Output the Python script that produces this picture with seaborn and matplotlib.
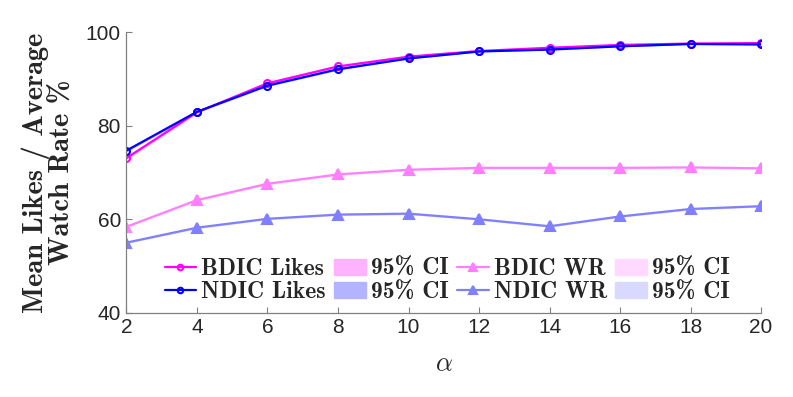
import numpy as np
import pandas as pd
import seaborn as sns
import matplotlib.pyplot as plt
from matplotlib.patches import Patch
from matplotlib.lines import Line2D

# data
alpha = [2, 4, 6, 8, 10, 12, 14, 16, 18, 20]
bdic_likes = [73.1, 82.9, 89.1, 92.7, 94.8, 96.0, 96.7, 97.3, 97.6, 97.7]
ndic_likes = [74.7, 83.0, 88.6, 92.1, 94.4, 95.9, 96.3, 97.0, 97.5, 97.4]
bdic_wr = [58.4, 64.1, 67.6, 69.6, 70.6, 71.0, 71.0, 71.0, 71.1, 70.9]
ndic_wr = [55.0, 58.2, 60.1, 61.0, 61.2, 60.0, 58.5, 60.6, 62.2, 62.8]
# 95% CI half widths (very narrow, barely visible)
ci_bdic_likes = [0.3, 0.2, 0.2, 0.2, 0.1, 0.1, 0.1, 0.1, 0.1, 0.1]
ci_ndic_likes = [0.3, 0.2, 0.2, 0.2, 0.1, 0.1, 0.1, 0.1, 0.1, 0.1]
ci_bdic_wr = [0.2, 0.2, 0.2, 0.2, 0.2, 0.2, 0.2, 0.2, 0.2, 0.2]
ci_ndic_wr = [0.2, 0.2, 0.2, 0.2, 0.2, 0.2, 0.2, 0.2, 0.2, 0.2]

sns.set_style("ticks")
plt.rcParams["font.family"] = ["Liberation Sans", "DejaVu Sans"]
plt.rcParams["mathtext.fontset"] = "cm"

df = pd.DataFrame({"alpha": alpha, "bdic_likes": bdic_likes, "ndic_likes": ndic_likes,
                   "bdic_wr": bdic_wr, "ndic_wr": ndic_wr})

fig = plt.figure(figsize=(7.93, 3.97), dpi=100)
ax = fig.add_axes([0.1595, 0.2123, 0.8002, 0.7063])

series = [
    ("bdic_likes", ci_bdic_likes, "#ff00ff", "#ffb3ff", "o", 5, "none"),
    ("ndic_likes", ci_ndic_likes, "#0000ff", "#b3b3ff", "o", 5, "none"),
    ("bdic_wr", ci_bdic_wr, "#ff80ff", "#ffd9ff", "^", 7, None),
    ("ndic_wr", ci_ndic_wr, "#8080ff", "#d9d9ff", "^", 7, None),
]
for col, ci, c, cfill, mk, ms, mfc in series:
    lo = np.array(df[col]) - np.array(ci)
    hi = np.array(df[col]) + np.array(ci)
    ax.fill_between(df["alpha"], lo, hi, color=cfill, lw=0)
for col, ci, c, cfill, mk, ms, mfc in series:
    sns.lineplot(data=df, x="alpha", y=col, ax=ax, color=c, lw=1.6, marker=mk,
                 markersize=ms, markeredgecolor=c, markeredgewidth=1.5,
                 markerfacecolor=(mfc if mfc else c))

ax.set_xlim(2, 20)
ax.set_ylim(40, 100)
ax.set_xticks(alpha)
ax.set_yticks([40, 60, 80, 100])
sns.despine(ax=ax)
for s in ["left", "bottom"]:
    ax.spines[s].set_color("#808080")
    ax.spines[s].set_linewidth(0.9)
ax.tick_params(direction="in", length=4, width=0.8, color="#808080",
               labelsize=15, labelcolor="#262626", pad=4)

ax.set_xlabel(r"$\alpha$", fontsize=19, labelpad=11)
ax.set_ylabel("Mean Likes / Average\nWatch Rate %", family="cmb10",
              fontsize=20.5, labelpad=8, linespacing=0.95)

def ln(c, mk, ms, mfc):
    return Line2D([], [], color=c, lw=1.6, marker=mk, markersize=ms,
                  markeredgecolor=c, markeredgewidth=1.5, markerfacecolor=(mfc if mfc else c))

handles = [ln("#ff00ff", "o", 4, "none"), ln("#0000ff", "o", 4, "none"),
           Patch(color="#ffb3ff"), Patch(color="#b3b3ff"),
           ln("#ff80ff", "^", 6, None), ln("#8080ff", "^", 6, None),
           Patch(color="#ffd9ff"), Patch(color="#d9d9ff")]
labels = ["BDIC Likes", "NDIC Likes", "95% CI", "95% CI",
          "BDIC WR", "NDIC WR", "95% CI", "95% CI"]
ax.legend(handles, labels, ncol=4, frameon=False,
          prop={"family": "cmb10", "size": 17},
          loc="lower left", bbox_to_anchor=(0.06, 0.033),
          handlelength=1.34, handletextpad=0.22, columnspacing=0.35,
          labelspacing=0.05, borderaxespad=0.0, borderpad=0.0)

fig.savefig("out.png", dpi=100)
